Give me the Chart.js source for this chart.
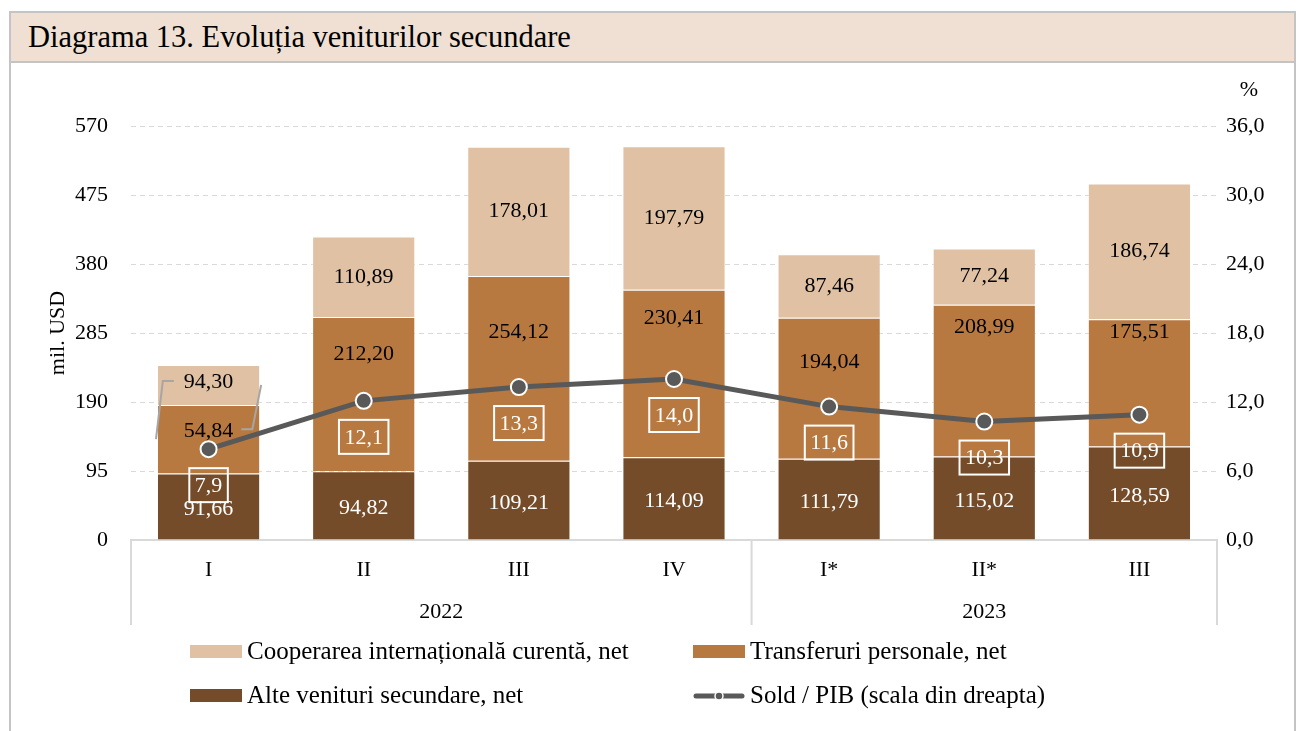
<!DOCTYPE html>
<html>
<head>
<meta charset="utf-8">
<script src="https://cdn.jsdelivr.net/npm/chart.js@4.4.0/dist/chart.umd.min.js"></script>
<style>
    body { margin: 0; background: #fff; font-family: "Liberation Serif", serif; }
    #frame { position: absolute; left: 9px; top: 11px; width: 1283px; height: 730px; border: 2px solid #c4c4c4; border-bottom: none; }
    #title { height: 48px; background: #efe0d3; border-bottom: 2px solid #c4c4c4; font-size: 30.5px; line-height: 48px; padding-left: 17px; color: #000; }
    #wrap { position: absolute; left: 11px; top: 63px; width: 1283px; height: 668px; }
</style>
</head>
<body>
<div id="frame"><div id="title">Diagrama 13. Evoluția veniturilor secundare</div></div>
<div id="wrap"><canvas id="chart" width="1283" height="668"></canvas></div>
<script>
const quarters = ['I', 'II', 'III', 'IV', 'I*', 'II*', 'III'];
const years = ['2022', '2023'];
const quartersPerYear = [4, 3];

const cooperarea = [54.84, 110.89, 178.01, 197.79, 87.46, 77.24, 186.74];
const transferuri = [94.30, 212.20, 254.12, 230.41, 194.04, 208.99, 175.51];
const alteVenituri = [91.66, 94.82, 109.21, 114.09, 111.79, 115.02, 128.59];
const soldPib = [7.9, 12.1, 13.3, 14.0, 11.6, 10.3, 10.9];

// hand nudges for the middle labels, as in the original (px)
const midShift = [-8, -40, -36, -55, -26, -53, -51];

const FONT = '"Liberation Serif", serif';
const colors = { coop: '#e0c1a3', transf: '#b77940', alte: '#744c2a', line: '#595959' };

function fmt(v, d) {
    return v.toFixed(d).replace('.', ',');
}

const labelsPlugin = {
    id: 'labels',
    afterDatasetsDraw(chart) {
        let ctx = chart.ctx;
        let mA = chart.getDatasetMeta(0);
        let mT = chart.getDatasetMeta(1);
        let mC = chart.getDatasetMeta(2);
        let mL = chart.getDatasetMeta(3);
        let mid = el => (el.y + el.base) / 2;

        ctx.save();
        ctx.font = '22px ' + FONT;
        ctx.textAlign = 'center';
        ctx.textBaseline = 'middle';

        for (let i = 0; i < quarters.length; i++) {
            let a = mA.data[i], t = mT.data[i], c = mC.data[i];
            ctx.fillStyle = '#fff';
            ctx.fillText(fmt(alteVenituri[i], 2), a.x, mid(a) + 3);
            ctx.fillStyle = '#000';
            if (i === 0) {
                // first bar: labels swapped with leader lines
                let top = fmt(transferuri[i], 2);
                let low = fmt(cooperarea[i], 2);
                let yTop = mid(c) - 3;
                let yLow = mid(t) + midShift[i];
                ctx.fillText(top, c.x, yTop);
                ctx.fillText(low, t.x, yLow);
                let w1 = ctx.measureText(top).width;
                let w2 = ctx.measureText(low).width;
                ctx.strokeStyle = '#a6a6a6';
                ctx.lineWidth = 2;
                ctx.beginPath();
                ctx.moveTo(c.x - w1 / 2 - 10, yTop - 1);
                ctx.lineTo(c.x - w1 / 2 - 21, yTop - 1);
                ctx.lineTo(t.x - t.width / 2 - 1, mid(t));
                ctx.stroke();
                ctx.beginPath();
                ctx.moveTo(t.x + w2 / 2 + 8, yLow - 2);
                ctx.lineTo(t.x + w2 / 2 + 19, yLow - 2);
                ctx.lineTo(c.x + c.width / 2 + 1, mid(c));
                ctx.stroke();
            } else {
                ctx.fillText(fmt(transferuri[i], 2), t.x, mid(t) + midShift[i]);
                ctx.fillText(fmt(cooperarea[i], 2), c.x, mid(c));
            }
        }

        // boxed values of the line
        for (let i = 0; i < soldPib.length; i++) {
            let p = mL.data[i];
            let txt = fmt(soldPib[i], 1);
            let w = ctx.measureText(txt).width + 11;
            let h = 34;
            let cy = p.y + 36;
            ctx.strokeStyle = '#fff';
            ctx.lineWidth = 2;
            ctx.strokeRect(p.x - w / 2, cy - h / 2, w, h);
            ctx.fillStyle = '#fff';
            ctx.fillText(txt, p.x, cy + 1);
        }
        ctx.restore();
    },
    afterDraw(chart) {
        let ctx = chart.ctx;
        let area = chart.chartArea;
        let xs = chart.scales.x;
        ctx.save();

        // year groups under the quarters
        ctx.strokeStyle = '#d9d9d9';
        ctx.lineWidth = 2;
        let bottom = area.bottom + 85;
        let start = 0;
        let edges = [area.left];
        years.forEach((yr, k) => {
            let end = start + quartersPerYear[k];
            let right = end < quarters.length
                ? (xs.getPixelForValue(end - 1) + xs.getPixelForValue(end)) / 2
                : area.right;
            edges.push(right);
            ctx.fillStyle = '#000';
            ctx.font = '22px ' + FONT;
            ctx.textAlign = 'center';
            ctx.textBaseline = 'middle';
            ctx.fillText(yr, (edges[k] + right) / 2, area.bottom + 72);
            start = end;
        });
        edges.forEach(x => {
            ctx.beginPath();
            ctx.moveTo(x, area.bottom);
            ctx.lineTo(x, bottom);
            ctx.stroke();
        });

        // unit of the right axis
        ctx.fillStyle = '#000';
        ctx.font = '22px ' + FONT;
        ctx.textAlign = 'center';
        ctx.fillText('%', chart.scales.y1.left + 32, area.top - 36);

        // legend, two columns
        let order = [2, 1, 0, 3];
        let colX = [area.left + 59, area.left + 562];
        let rowY = [area.bottom + 112, area.bottom + 156];
        order.forEach((di, k) => {
            let ds = chart.data.datasets[di];
            let x = colX[k % 2];
            let y = rowY[Math.floor(k / 2)];
            if (ds.type === 'line') {
                ctx.strokeStyle = ds.borderColor;
                ctx.lineWidth = 5;
                ctx.lineCap = 'round';
                ctx.beginPath();
                ctx.moveTo(x + 3, y);
                ctx.lineTo(x + 49, y);
                ctx.stroke();
                ctx.beginPath();
                ctx.arc(x + 26, y, 4, 0, Math.PI * 2);
                ctx.fillStyle = ds.backgroundColor;
                ctx.fill();
                ctx.strokeStyle = '#fff';
                ctx.lineWidth = 1.5;
                ctx.stroke();
            } else {
                ctx.fillStyle = ds.backgroundColor;
                ctx.fillRect(x, y - 7, 52, 13);
            }
            ctx.fillStyle = '#000';
            ctx.font = '25px ' + FONT;
            ctx.textAlign = 'left';
            ctx.textBaseline = 'middle';
            ctx.fillText(ds.label, x + 57, y);
        });
        ctx.restore();
    }
};

new Chart(document.getElementById('chart'), {
    type: 'bar',
    data: {
        labels: quarters,
        datasets: [
            {
                label: 'Alte venituri secundare, net',
                data: alteVenituri,
                backgroundColor: colors.alte,
                borderColor: 'rgba(255,255,255,0.35)',
                borderWidth: 1,
                yAxisID: 'y',
                order: 1
            },
            {
                label: 'Transferuri personale, net',
                data: transferuri,
                backgroundColor: colors.transf,
                borderColor: 'rgba(255,255,255,0.35)',
                borderWidth: 1,
                yAxisID: 'y',
                order: 1
            },
            {
                label: 'Cooperarea internațională curentă, net',
                data: cooperarea,
                backgroundColor: colors.coop,
                borderColor: 'rgba(255,255,255,0.35)',
                borderWidth: 1,
                yAxisID: 'y',
                order: 1
            },
            {
                type: 'line',
                label: 'Sold / PIB (scala din dreapta)',
                data: soldPib,
                borderColor: colors.line,
                backgroundColor: colors.line,
                borderWidth: 5,
                pointRadius: 8,
                pointBorderColor: '#fff',
                pointBorderWidth: 2,
                pointBackgroundColor: colors.line,
                yAxisID: 'y1',
                order: 0
            }
        ]
    },
    options: {
        responsive: false,
        animation: false,
        devicePixelRatio: 1,
        layout: { padding: { top: 63, bottom: 101, left: 0, right: 0 } },
        datasets: { bar: { categoryPercentage: 1, barPercentage: 0.665 } },
        plugins: { legend: { display: false }, tooltip: { enabled: false } },
        scales: {
            x: {
                stacked: true,
                grid: { display: false },
                border: { display: true, color: '#d9d9d9', width: 2 },
                ticks: { color: '#000', font: { family: FONT, size: 22 }, padding: 9 },
                afterFit: s => { s.height = 90; }
            },
            y: {
                stacked: true,
                min: 0,
                max: 570,
                ticks: { stepSize: 95, color: '#000', font: { family: FONT, size: 22 }, padding: 23 },
                grid: {
                    drawTicks: false,
                    color: c => c.tick.value === 0 ? 'transparent' : '#d9d9d9'
                },
                border: { display: false, dash: [5, 4] },
                title: { display: true, text: 'mil. USD', color: '#000', font: { family: FONT, size: 22 }, padding: { top: 34, bottom: 0 } },
                afterFit: s => { s.width = 120; }
            },
            y1: {
                position: 'right',
                min: 0,
                max: 36,
                ticks: { stepSize: 6, color: '#000', font: { family: FONT, size: 22 }, padding: 9, callback: v => fmt(v, 1) },
                grid: { display: false, drawTicks: false },
                border: { display: false },
                afterFit: s => { s.width = 77; }
            }
        }
    },
    plugins: [labelsPlugin]
});
</script>
</body>
</html>
